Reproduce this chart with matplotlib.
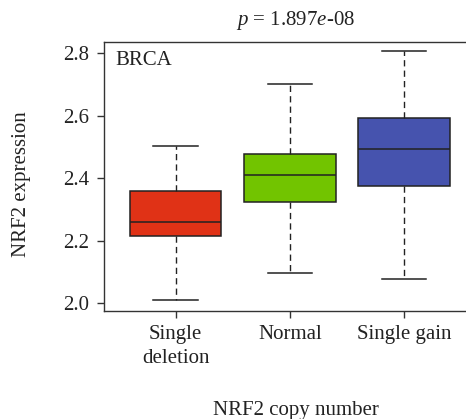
import matplotlib
matplotlib.use("Agg")
import matplotlib.pyplot as plt

# Box summary statistics of NRF2 expression by copy number group
groups = ["Single\ndeletion", "Normal", "Single gain"]
whisker_low = [2.010, 2.098, 2.079]
q1 = [2.214, 2.324, 2.374]
median = [2.259, 2.411, 2.492]
q3 = [2.359, 2.477, 2.594]
whisker_high = [2.502, 2.700, 2.808]
box_colors = ["#E03216", "#72C400", "#4653AE"]

yticks = [2.0, 2.2, 2.4, 2.6, 2.8]
p_text = r"$p$ = 1.897$e$-08"

plt.rcParams["font.family"] = ["Liberation Serif", "DejaVu Serif"]
plt.rcParams["mathtext.fontset"] = "custom"
plt.rcParams["mathtext.it"] = "Liberation Serif:italic"
plt.rcParams["mathtext.rm"] = "Liberation Serif"

W, H = 466, 419
FS = 15
TXT = "#222222"

fig = plt.figure(figsize=(W / 100, H / 100), dpi=100)
ax = fig.add_axes([104.3 / W, 1 - 310.7 / H, (475.4 - 104.3) / W, (310.7 - 42) / H])

stats = []
for i in range(len(groups)):
    stats.append(dict(med=median[i], q1=q1[i], q3=q3[i],
                      whislo=whisker_low[i], whishi=whisker_high[i],
                      fliers=[]))

edge = "#222222"
bp = ax.bxp(stats, positions=[1, 2, 3], widths=0.8, patch_artist=True,
            showfliers=False,
            boxprops=dict(edgecolor=edge, linewidth=1.1),
            medianprops=dict(color=edge, linewidth=1.1),
            whiskerprops=dict(color=edge, linewidth=1.0, linestyle=(0, (4.5, 3))),
            capprops=dict(color=edge, linewidth=1.1),
            capwidths=0.39)
for patch, c in zip(bp["boxes"], box_colors):
    patch.set_facecolor(c)

ax.set_xlim(0.375, 3.625)
ax.set_ylim(1.976, 2.836)
ax.set_yticks(yticks)
ax.set_yticklabels([f"{v:.1f}" for v in yticks])
ax.set_xticks([1, 2, 3])
ax.set_xticklabels(groups, linespacing=1.32)

for s in ["left", "bottom", "top", "right"]:
    ax.spines[s].set_color("#333333")
    ax.spines[s].set_linewidth(1.0)

ax.tick_params(axis="both", direction="out", length=5, width=1.0,
               color="#333333", labelsize=FS, labelcolor=TXT)
ax.tick_params(axis="y", pad=6)
ax.tick_params(axis="x", pad=5.5)

fig.text(115.7 / W, 1 - 65 / H, "BRCA", fontsize=FS, color=TXT,
         ha="left", va="baseline")
fig.text(295.5 / W, 1 - 25 / H, p_text, fontsize=FS, color=TXT,
         ha="center", va="baseline")
fig.text(295.5 / W, 1 - 415 / H, "NRF2 copy number", fontsize=FS, color=TXT,
         ha="center", va="baseline")
fig.text(21.7 / W, 1 - 184 / H, "NRF2 expression", fontsize=FS, color=TXT,
         ha="center", va="center", rotation=90)

fig.savefig("out.png", dpi=100)
